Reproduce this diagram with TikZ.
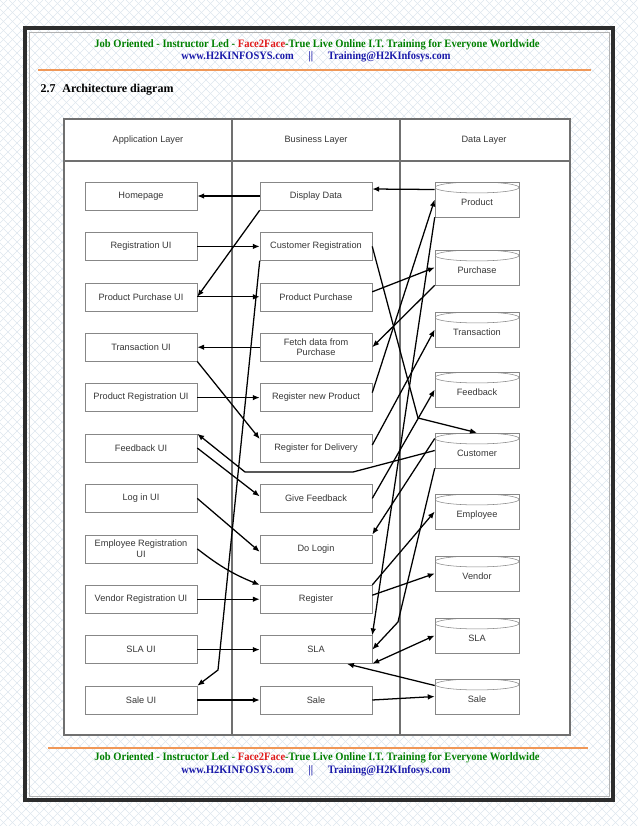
\documentclass[tikz,border=0pt]{standalone}
\usepackage{fontspec}
\usepackage{graphicx}
\setmainfont{Liberation Sans}
\newfontfamily\headfont{Liberation Serif}
\usetikzlibrary{arrows.meta}
\definecolor{hatchc}{RGB}{222,230,238}
\definecolor{framec}{RGB}{45,45,45}
\definecolor{rulec}{RGB}{240,152,88}
\definecolor{hdgreen}{RGB}{0,128,0}
\definecolor{hdred}{RGB}{225,25,25}
\definecolor{hdblue}{RGB}{25,25,170}
\definecolor{linec}{RGB}{112,112,112}
\definecolor{boxc}{RGB}{135,135,135}
\definecolor{txtc}{RGB}{55,55,55}
\newcommand\hdlineone{\scalebox{0.93}[1]{\textcolor{hdgreen}{Job Oriented - Instructor Led - }\textcolor{hdred}{Face2Face}\textcolor{hdgreen}{-True Live Online I.T. Training for Everyone Worldwide}}}
\newcommand\hdlinetwo{\scalebox{0.92}[1]{www.H2KINFOSYS.com\hspace{12pt}||\hspace{12pt}Training@H2KInfosys.com}}
\begin{document}
\begin{tikzpicture}[x=0.75pt,y=-0.75pt,
    every node/.style={font=\fontsize{6.9}{8}\selectfont, text=txtc},
    ui/.style={draw=boxc, fill=white, minimum width=84pt, minimum height=21pt, inner sep=1pt, align=center},
    db/.style={draw=boxc, fill=white, minimum width=63pt, minimum height=26.25pt, inner sep=0pt,
      text height=10.5pt, text depth=1.5pt,
      path picture={\draw[boxc] ([yshift=-4.1pt]path picture bounding box.north) ellipse (31.5pt and 4.1pt);}},
    arr/.style={draw=black, line width=0.95pt, -{Latex[length=5.2pt,width=4.2pt]}},
    dbl/.style={draw=black, line width=0.95pt, {Latex[length=5.2pt,width=4.2pt]}-{Latex[length=5.2pt,width=4.2pt]}},
    hdr/.style={font=\headfont\bfseries\fontsize{8.5}{10}\selectfont}]
  \useasboundingbox (0,0) rectangle (638,826);
  % page background
  \begin{scope}
    \clip (0,0) rectangle (638,826);
    \foreach \i in {-828,-819,...,640} {
      \draw[hatchc, line width=0.4pt] (\i,0) -- ++(826,826);
      \draw[hatchc, line width=0.4pt] (\i+826,0) -- ++(-826,826);
    }
  \end{scope}
  \draw[framec, line width=2.6pt] (25,28) rectangle (613,800);
  \draw[gray!60, line width=0.5pt] (29,32) rectangle (609,796);

  % header and footer
  \node[hdr] (hd1) at (317,45) {\hdlineone};
  \node[hdr, text=hdblue] (hd2) at (316,57) {\hdlinetwo};
  \draw[rulec, line width=2.2pt] (38,70) -- (591,70);
  \node[anchor=west, font=\headfont\bfseries\fontsize{9}{11}\selectfont, text=black] (title) at (36,90) {2.7\hspace{5pt}Architecture diagram};
  \draw[rulec, line width=2.2pt] (48,748) -- (588,748);
  \node[hdr] (ft1) at (317,758) {\hdlineone};
  \node[hdr, text=hdblue] (ft2) at (316,771) {\hdlinetwo};

  % table
  \fill[white] (64,119) rectangle (570,735);
  \draw[linec, line width=0.8pt] (64,119) rectangle (570,735);
  \draw[linec, line width=0.8pt] (64,161) -- (570,161) (232,119) -- (232,735) (400,119) -- (400,735);
  \node (applayer) at (148,140) {Application Layer};
  \node (bizlayer) at (316,140) {Business Layer};
  \node (datalayer) at (484,140) {Data Layer};

  % application layer
  \node[ui] (home) at (141,196) {Homepage};
  \node[ui] (regui) at (141,246.4) {Registration UI};
  \node[ui] (ppui) at (141,296.8) {Product Purchase UI};
  \node[ui] (transui) at (141,347.2) {Transaction UI};
  \node[ui] (prui) at (141,397.6) {Product Registration UI};
  \node[ui] (fbui) at (141,448) {Feedback UI};
  \node[ui] (login) at (141,498.4) {Log in UI};
  \node[ui] (empui) at (141,548.8) {Employee Registration\\UI};
  \node[ui] (vrui) at (141,599.2) {Vendor Registration UI};
  \node[ui] (slaui) at (141,649.6) {SLA UI};
  \node[ui] (saleui) at (141,700) {Sale UI};

  % business layer
  \node[ui] (dd) at (316,196) {Display Data};
  \node[ui] (cr) at (316,246.4) {Customer Registration};
  \node[ui] (pp) at (316,296.8) {Product Purchase};
  \node[ui] (fetch) at (316,347.2) {Fetch data from\\Purchase};
  \node[ui] (rnp) at (316,397.6) {Register new Product};
  \node[ui] (rdel) at (316,448) {Register for Delivery};
  \node[ui] (gf) at (316,498.4) {Give Feedback};
  \node[ui] (dologin) at (316,548.8) {Do Login};
  \node[ui] (reg) at (316,599.2) {Register};
  \node[ui] (sla) at (316,649.6) {SLA};
  \node[ui] (sale) at (316,700) {Sale};

  % data layer
  \node[db] (prod) at (477,199.5) {Product};
  \node[db] (purch) at (477,267.5) {Purchase};
  \node[db] (trans) at (477,329.5) {Transaction};
  \node[db] (fb) at (477,389.5) {Feedback};
  \node[db] (cust) at (477,450.5) {Customer};
  \node[db] (emp) at (477,511.5) {Employee};
  \node[db] (vend) at (477,573.5) {Vendor};
  \node[db] (slad) at (477,635.5) {SLA};
  \node[db] (saled) at (477,696.5) {Sale};

  \coordinate (bendsale) at (218,670);
  \coordinate (bendfa) at (353,472);
  \coordinate (bendfb) at (245,472);
  \coordinate (bendcust) at (418,418);
  \coordinate (bendsla) at (398,622);

  % application <-> business
  \draw[arr] (dd) -- (home);
  \draw[arr] (dd.south west) -- (ppui.east);
  \draw[arr] (regui) -- (cr);
  \draw[arr] (ppui) -- (pp);
  \draw[arr] (cr.south west) -- (bendsale) -- (saleui.north east);
  \draw[arr] (fetch) -- (transui);
  \draw[arr] (transui.south east) -- ([shift={(0,-9)}]rdel.west);
  \draw[arr] (prui) -- (rnp);
  \draw[arr] (fbui.east) -- ([shift={(0,-2)}]gf.west);
  \draw[arr] (login.east) -- ([shift={(0,3)}]dologin.west);
  \draw[arr] (empui.east) to[bend right=8] (reg.north west);
  \draw[arr] (vrui) -- (reg);
  \draw[arr] (slaui) -- (sla);
  \draw[arr] (saleui) -- (sale);

  % business <-> data
  \draw[arr] ([shift={(0,-10)}]prod.west) -- ([shift={(0,-7)}]dd.east);
  \draw[arr] (cr.east) -- (bendcust) -- (cust.north);
  \draw[arr] ([shift={(0,-5)}]pp.east) -- (purch.west);
  \draw[arr] (purch.south west) -- (fetch.east);
  \draw[arr] ([shift={(0,-5)}]rnp.east) -- (prod.west);
  \draw[arr] (prod.south west) -- (sla.north east);
  \draw[arr] ([shift={(0,-3)}]rdel.east) -- (trans.west);
  \draw[arr] (gf.east) -- (fb.west);
  \draw[arr] (cust.west) -- (bendfa) -- (bendfb) -- (fbui.north east);
  \draw[arr] ([shift={(0,-12)}]cust.west) -- (dologin.north east);
  \draw[arr] (cust.south west) -- (bendsla) -- (sla.east);
  \draw[arr] (reg.north east) -- (emp.west);
  \draw[arr] ([shift={(0,-4)}]reg.east) -- (vend.west);
  \draw[dbl] (sla.south east) -- (slad.west);
  \draw[arr] ([shift={(0,-11)}]saled.west) -- ([shift={(31,0)}]sla.south);
  \draw[arr] (sale.east) -- (saled.west);
\end{tikzpicture}
\end{document}
